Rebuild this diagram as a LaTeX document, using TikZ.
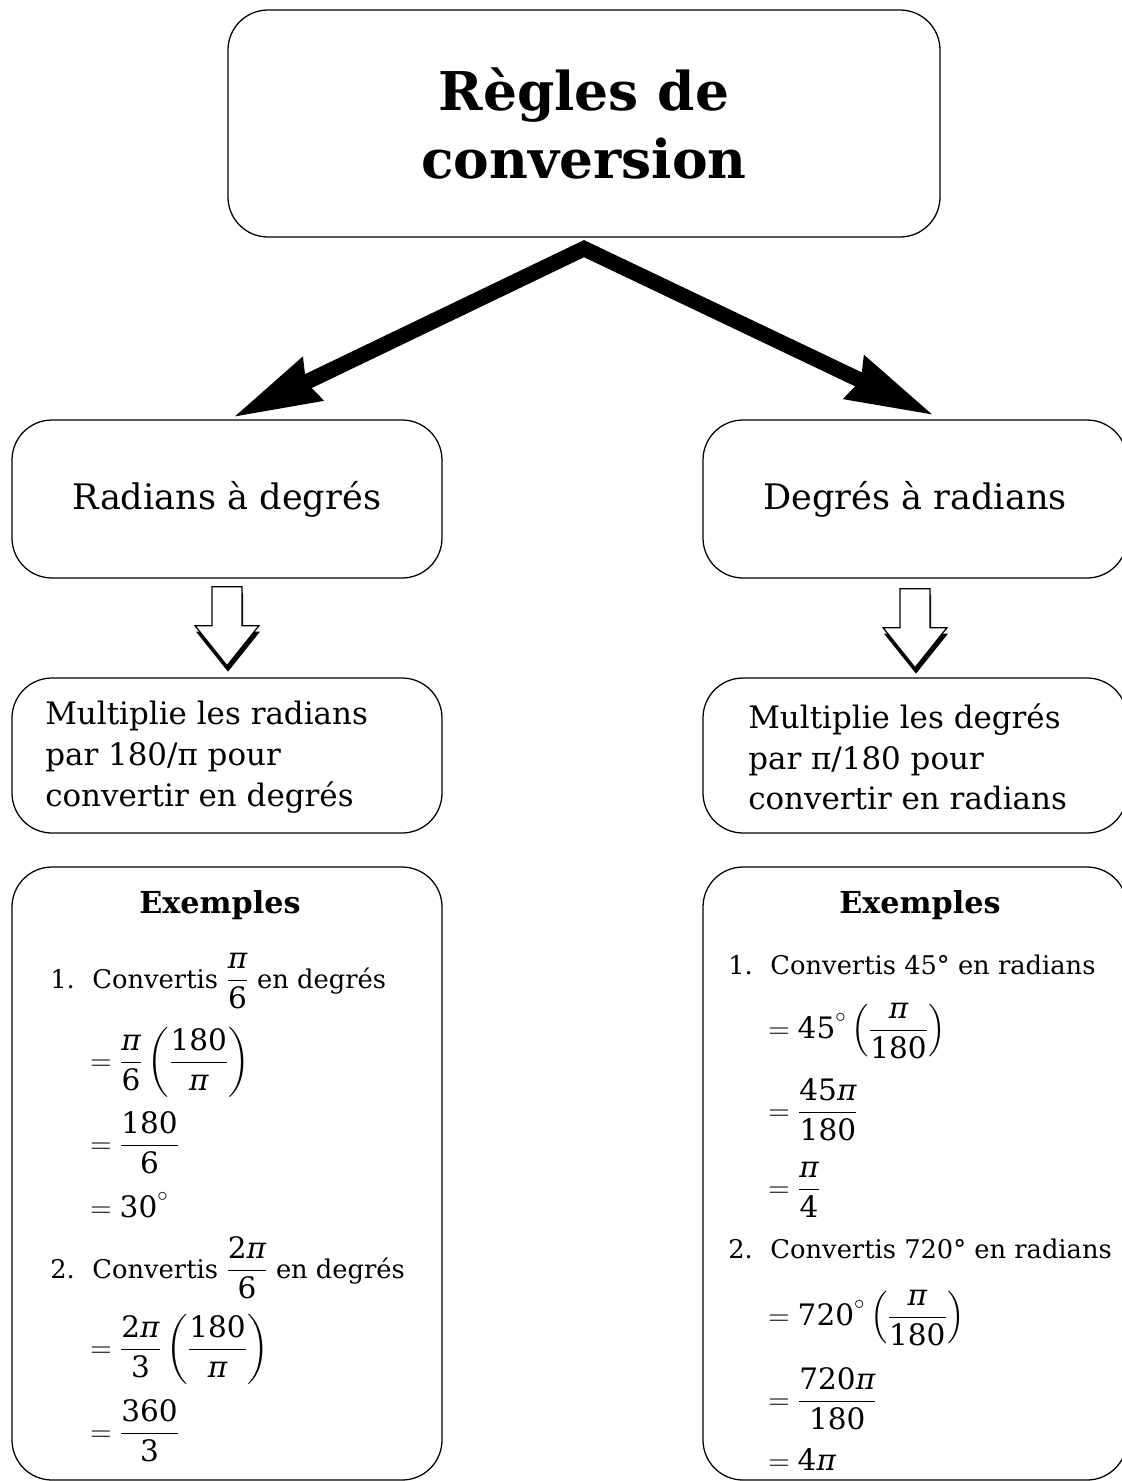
\RequirePackage{fix-cm}
\documentclass[tikz,border=0pt]{standalone}
\usepackage{amsmath}
\usepackage{fontspec}
\setmainfont{DejaVu Serif}
\newfontfamily\digitfont{DejaVu Serif}[NFSSFamily=dvs]
\DeclareSymbolFont{txtdigits}{TU}{dvs}{m}{n}
\DeclareSymbolFont{txtitalic}{TU}{dvs}{m}{it}
\newcount\dig
\AtBeginDocument{%
  \dig=`0
  \loop\ifnum\dig<58
    \mathcode\dig=\numexpr "7000+\symtxtdigits*"100+\dig\relax
    \advance\dig by 1
  \repeat
  \Umathchardef\pi="0 \symtxtitalic "03C0\relax}
\usetikzlibrary{arrows.meta, calc, positioning}
\newlength\px
\setlength\px{0.025cm}
\newcommand\mth[1]{{\fontsize{21}{25}\selectfont$\displaystyle #1$}}

\begin{document}
\begin{tikzpicture}[
    x=0.025cm, y=-0.025cm,
    box/.style={draw, line width=0.9pt, rounded corners=40\px, align=center},
    titletext/.style={font=\fontsize{38}{48}\selectfont\bfseries},
    sidetext/.style={font=\fontsize{25}{30}\selectfont},
    ruletext/.style={anchor=west, align=left, inner sep=0pt, font=\fontsize{22}{29}\selectfont},
    headtext/.style={anchor=base, inner sep=0pt, font=\fontsize{21.5}{26}\selectfont\bfseries},
    itemtext/.style={anchor=base west, inner sep=0pt, font=\fontsize{18.3}{22}\selectfont},
    calctext/.style={anchor=base west, inner sep=0pt, font=\fontsize{21}{25}\selectfont},
    bigarrow/.style={line width=11pt,
        {Stealth[length=62pt, width=35pt, inset=6pt, line width=0pt]}-{Stealth[length=62pt, width=35pt, inset=6pt, line width=0pt]}},
    downarrow/.pic={
        \fill[shift={(1,6)}] (-15,0) -- (15,0) -- (15,39) -- (32,39) -- (0,79) -- (-32,39) -- (-15,39) -- cycle;
        \filldraw[fill=white, line width=0.9pt] (-15,0) -- (15,0) -- (15,39) -- (32,39) -- (0,79) -- (-32,39) -- (-15,39) -- cycle;
    }
]
    \useasboundingbox (0,0) rectangle (1122,1481);

    % Main boxes
    \node[box, titletext, minimum width=712\px, minimum height=227\px] (title) at (584,123.5) {Règles de\\conversion};
    \node[box, sidetext, minimum width=430\px, minimum height=158\px] (rad) at (227,499) {Radians à degrés};
    \node[box, sidetext, minimum width=424\px, minimum height=158\px] (deg) at (915,499) {Degrés à radians};

    \node[box, minimum width=430\px, minimum height=155\px] (radrule) at (227,755.5) {};
    \node[box, minimum width=424\px, minimum height=155\px] (degrule) at (915,755.5) {};
    \node[ruletext] (radruletxt) at (45,757) {Multiplie les radians\\par 180/π pour\\convertir en degrés};
    \node[ruletext] (degruletxt) at (748,757) {Multiplie les degrés\\par π/180 pour\\convertir en radians};

    \node[box, minimum width=430\px, minimum height=613\px] (radex) at (227,1173.5) {};
    \node[box, minimum width=424\px, minimum height=613\px] (degex) at (915,1173.5) {};

    % Examples, radians to degrees
    \node[headtext] (radhead) at (220,913) {Exemples};
    \node[itemtext] (rad1) at (50,988) {\makebox[30pt][l]{1.}Convertis \mth{\frac{\pi}{6}} en degrés};
    \node[calctext] (rad1a) at (90,1070) {$=\dfrac{\pi}{6}\left(\dfrac{180}{\pi}\right)$};
    \node[calctext] (rad1b) at (90,1153) {$=\dfrac{180}{6}$};
    \node[calctext] (rad1c) at (90,1217) {$=30^\circ$};
    \node[itemtext] (rad2) at (50,1278) {\makebox[30pt][l]{2.}Convertis \mth{\frac{2\pi}{6}} en degrés};
    \node[calctext] (rad2a) at (90,1357) {$=\dfrac{2\pi}{3}\left(\dfrac{180}{\pi}\right)$};
    \node[calctext] (rad2b) at (90,1441) {$=\dfrac{360}{3}$};

    % Examples, degrees to radians
    \node[headtext] (deghead) at (920,913) {Exemples};
    \node[itemtext] (deg1) at (728,974) {\makebox[30pt][l]{1.}Convertis 45° en radians};
    \node[calctext] (deg1a) at (768,1038) {$=45^\circ\left(\dfrac{\pi}{180}\right)$};
    \node[calctext] (deg1b) at (768,1120) {$=\dfrac{45\pi}{180}$};
    \node[calctext] (deg1c) at (768,1197) {$=\dfrac{\pi}{4}$};
    \node[itemtext] (deg2) at (728,1258) {\makebox[30pt][l]{2.}Convertis 720° en radians};
    \node[calctext] (deg2a) at (768,1325) {$=720^\circ\left(\dfrac{\pi}{180}\right)$};
    \node[calctext] (deg2b) at (768,1409) {$=\dfrac{720\pi}{180}$};
    \node[calctext] (deg2c) at (768,1470) {$=4\pi$};

    % Arrows
    \coordinate (apex) at ($(title.south)+(0,11)$);
    \coordinate (ltip) at ($(rad.north)+(8,-3)$);
    \coordinate (rtip) at ($(deg.north)+(17,-5)$);
    \draw[bigarrow] (ltip) -- (apex) -- (rtip);

    \pic at ($(rad.south)+(0,8)$) {downarrow};
    \pic at ($(deg.south)+(0,10)$) {downarrow};

\end{tikzpicture}
\end{document}
